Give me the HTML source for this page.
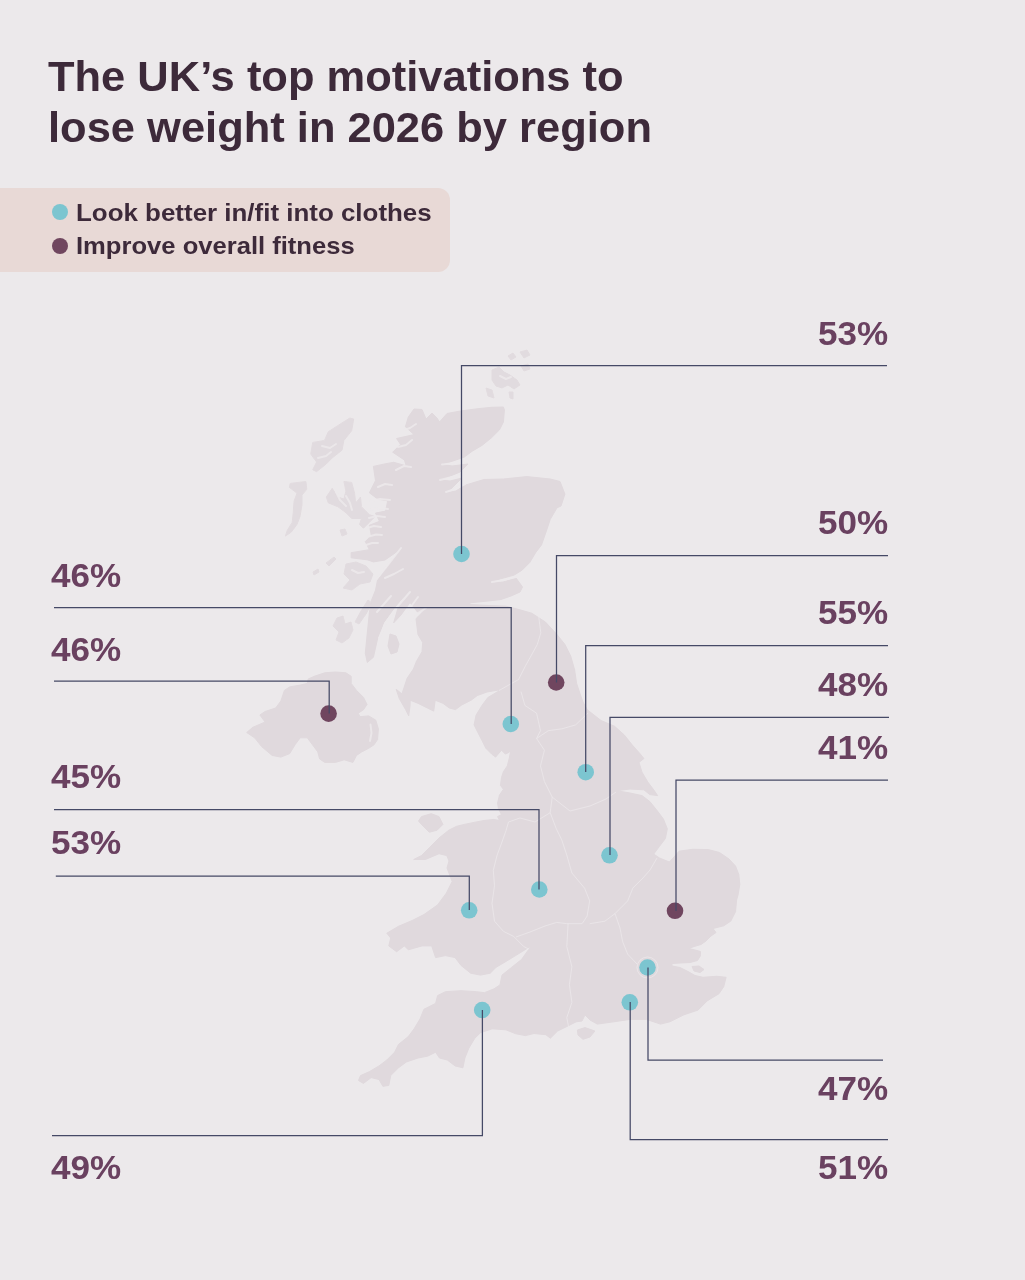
<!DOCTYPE html>
<html lang="en">
<head>
<meta charset="utf-8">
<title>The UK's top motivations to lose weight in 2026 by region</title>
<style>
html,body{margin:0;padding:0;}
body{width:1025px;height:1280px;background:#ece9eb;position:relative;overflow:hidden;font-family:"Liberation Sans",sans-serif;}
h1{position:absolute;left:47.800px;top:50.700px;margin:0;font-size:43px;line-height:51px;font-weight:bold;color:#3d2a3a;white-space:nowrap;transform:scaleX(1.011);transform-origin:0 0;}
.legend{position:absolute;left:0;top:188px;width:450px;height:83.500px;background:#e8d9d6;border-radius:0 12px 12px 0;}
.legend div{position:absolute;left:76px;font-size:24px;transform:scaleX(1.08);transform-origin:0 0;font-weight:bold;color:#3d2a3a;white-space:nowrap;line-height:30px;}
.legend i{position:absolute;left:51.500px;width:16px;height:16px;border-radius:50%;}
.pct{position:absolute;font-size:34px;line-height:34px;font-weight:bold;color:#6a4160;white-space:nowrap;}
.pct.r{right:136.500px;text-align:right;transform:scaleX(1.03);transform-origin:100% 0;}
.pct.l{left:51px;transform:scaleX(1.03);transform-origin:0 0;}
svg{position:absolute;left:0;top:0;}
</style>
</head>
<body>
<h1>The UK’s top motivations to<br>lose weight in 2026 by region</h1>
<div class="legend">
<i style="top:16px;background:#7cc5d0"></i><div style="top:10px">Look better in/fit into clothes</div>
<i style="top:49.500px;background:#70465f"></i><div style="top:43px;transform:scaleX(1.066)">Improve overall fitness</div>
</div>
<svg width="1025" height="1280" viewBox="0 0 1025 1280">
<g id="map" fill="#e0d9dd" stroke="#e0d9dd" stroke-width="1" stroke-linejoin="round"><path d="M414.0,409.0 422.0,409.5 426.0,419.0 432.0,413.0 437.0,418.0 439.5,422.0 447.0,413.5 460.5,411.0 478.0,408.7 491.7,407.3 503.4,407.0 504.4,410.0 503.4,422.0 499.5,429.8 491.7,437.6 482.0,445.4 472.2,451.2 464.4,457.0 450.0,462.0 442.0,464.0 452.0,466.0 468.0,464.0 460.0,472.0 448.0,477.0 440.0,480.0 450.0,481.0 462.0,478.0 452.0,488.0 445.0,493.0 456.0,491.0 464.4,485.4 484.0,479.5 503.4,479.0 526.8,476.6 550.2,479.0 560.0,481.5 564.9,494.1 561.0,506.0 557.0,507.8 550.2,519.5 546.3,531.2 541.5,544.9 535.6,552.7 529.8,562.4 522.0,570.2 514.1,575.1 500.0,579.0 491.0,582.0 503.0,582.0 516.0,578.0 522.5,587.0 520.0,592.0 511.0,596.0 501.0,599.5 488.0,601.0 470.0,602.8 470.0,604.6 490.0,605.6 506.0,606.2 518.0,609.3 531.7,613.2 545.4,622.0 557.0,634.6 564.9,644.4 570.7,656.1 574.6,669.8 576.6,683.4 580.5,695.1 583.0,702.0 587.3,709.8 601.0,720.5 614.6,726.3 624.4,735.1 632.2,744.9 640.0,753.7 643.9,758.5 639.0,762.4 642.0,772.2 647.8,782.0 653.7,789.8 657.6,795.6 649.8,794.6 643.9,789.8 630.0,789.0 616.6,790.7 630.0,793.0 642.0,795.6 649.8,801.5 657.6,811.2 663.4,819.0 667.3,828.8 665.4,838.5 659.5,846.3 653.7,854.1 659.5,858.0 669.3,862.0 673.2,858.0 679.0,851.2 692.7,849.3 708.3,849.6 719.5,852.5 729.0,859.0 735.5,866.0 738.8,874.5 739.8,884.5 738.0,895.0 736.6,900.0 735.5,911.7 730.8,921.1 723.7,925.8 713.0,928.5 716.0,932.5 711.0,936.0 706.0,941.0 701.0,944.5 694.0,946.5 689.0,948.5 695.0,950.0 700.5,951.5 700.3,956.0 697.5,960.5 690.0,962.5 680.0,963.0 672.0,963.5 672.0,966.0 680.0,967.5 688.0,971.5 695.0,975.5 703.0,977.3 716.7,976.3 726.1,977.3 723.7,986.7 719.0,993.7 707.4,1000.7 698.0,1010.1 683.9,1014.8 669.9,1021.8 660.5,1024.1 646.5,1019.4 630.0,1019.4 613.7,1021.8 597.3,1024.1 590.0,1020.0 585.0,1015.0 582.0,1021.0 576.2,1021.8 566.8,1026.5 557.5,1031.1 550.4,1038.2 545.8,1034.7 534.0,1033.5 525.4,1035.6 515.6,1033.7 505.9,1029.8 492.2,1028.8 480.5,1032.7 474.6,1038.5 468.8,1048.3 464.9,1058.0 462.9,1067.8 455.1,1065.9 447.3,1060.0 439.5,1058.0 435.6,1052.2 427.8,1056.1 418.0,1058.0 406.3,1062.0 398.5,1067.8 390.7,1075.6 388.8,1085.4 382.9,1086.3 379.0,1079.5 371.2,1077.6 363.4,1083.4 358.5,1080.5 360.5,1075.6 369.3,1071.7 379.0,1065.9 386.8,1060.0 394.6,1052.2 398.5,1044.4 408.3,1036.6 414.1,1028.8 420.0,1019.0 423.9,1009.3 435.6,1003.4 437.6,995.6 445.4,991.7 461.0,990.7 476.6,991.7 484.4,992.7 494.1,988.8 500.0,984.9 502.0,975.1 511.7,967.3 521.5,959.5 531.2,945.9 515.6,955.6 505.9,961.5 496.1,967.3 490.2,973.2 480.5,975.1 470.7,973.2 461.0,965.4 455.1,957.6 445.4,955.6 435.6,957.6 431.7,945.9 422.0,945.9 408.3,949.8 404.4,945.9 396.6,951.7 388.8,945.9 390.7,938.0 386.8,933.2 398.5,926.3 412.2,920.5 423.9,914.6 437.6,904.9 446.3,893.2 452.2,881.5 447.0,868.0 449.0,861.0 446.8,855.6 439.0,853.7 425.4,859.5 413.7,859.5 421.5,855.6 429.3,847.8 439.0,838.0 448.8,830.2 456.6,826.3 464.4,824.4 474.1,822.4 483.9,820.5 493.7,819.5 499.5,820.5 497.6,816.6 501.5,814.6 498.5,808.8 497.6,802.9 499.5,795.1 503.4,789.3 500.5,785.4 501.5,777.6 503.4,771.7 507.3,765.9 509.3,758.0 511.2,748.3 509.3,752.2 505.4,754.1 501.5,750.2 495.6,757.1 491.7,754.1 485.9,748.3 482.0,740.5 478.0,732.7 474.1,724.9 476.1,715.1 482.0,705.4 487.8,697.6 497.6,691.7 499.5,689.8 487.0,692.0 477.4,695.5 471.1,700.2 461.8,704.9 455.5,709.6 449.3,708.0 443.0,703.3 435.2,700.2 433.7,711.1 427.4,708.0 418.0,703.3 410.2,700.2 410.0,706.0 408.7,715.8 405.6,709.6 399.3,698.6 396.2,689.3 401.9,693.9 404.0,687.7 407.1,678.3 413.4,669.0 416.5,661.2 422.0,651.8 422.7,642.4 418.0,634.6 416.0,618.7 426.0,608.6 418.0,612.7 410.0,602.5 401.0,615.0 393.7,622.8 398.0,608.0 405.9,594.4 395.0,607.0 383.6,622.8 377.5,639.0 373.4,657.3 367.3,662.4 365.3,653.3 367.3,633.0 369.4,612.7 371.4,600.5 375.5,590.3 377.5,580.2 388.0,566.0 399.8,549.7 385.0,560.0 373.4,561.9 367.3,559.8 351.1,557.8 351.1,552.7 369.4,549.7 365.3,541.6 371.4,535.5 369.4,525.3 379.5,521.3 375.5,513.1 385.6,511.1 387.7,500.9 377.5,498.9 369.4,492.8 375.5,480.6 373.4,466.4 384.9,463.9 393.7,462.3 406.3,465.9 404.4,460.0 392.7,452.2 400.5,444.4 396.6,438.5 414.1,434.6 405.4,426.8 408.3,417.1ZM308.2,679.0 314.3,676.3 324.8,672.8 335.4,672.0 345.9,672.8 351.2,676.3 351.2,683.4 356.5,690.4 363.5,697.4 367.0,704.4 363.5,709.7 358.2,713.2 360.0,716.7 368.7,715.9 375.8,720.2 378.4,729.0 377.5,739.6 374.0,744.8 368.7,748.3 361.7,751.9 356.5,755.4 352.9,762.4 344.2,759.8 335.4,762.4 324.8,762.4 319.6,758.9 317.8,751.9 312.5,744.8 307.3,737.8 300.2,737.8 295.0,744.8 289.7,753.6 280.9,757.1 272.1,755.4 261.6,746.6 254.6,737.8 246.7,732.5 252.8,727.3 265.1,722.0 259.9,715.0 265.1,711.5 275.7,708.0 280.9,700.9 284.4,690.4 289.7,686.9 300.2,685.1 307.3,683.4ZM390.0,634.0 396.0,636.0 399.0,644.0 397.0,652.0 391.0,654.0 388.0,646.0ZM421.5,816.6 431.2,813.7 439.0,816.6 442.9,824.4 437.1,830.2 429.3,832.2 421.5,824.4 418.5,821.0ZM577.4,1030.0 585.0,1027.6 594.9,1031.0 590.0,1037.0 583.0,1039.3 578.0,1035.0ZM692.0,966.5 699.0,966.0 704.0,969.5 700.0,972.5 694.0,971.0Z"/><path d="M353.7,419.0 351.7,430.7 343.9,440.5 342.0,450.2 332.2,458.0 326.3,463.9 316.6,471.7 312.7,469.8 316.6,462.0 310.7,454.1 312.7,442.4 324.4,440.5 328.3,431.7 342.0,422.9 349.8,418.0ZM290.2,483.4 305.9,481.5 306.8,489.3 302.0,495.1 302.0,504.9 300.0,516.6 297.0,524.4 291.2,532.2 285.4,536.1 287.3,530.2 292.2,522.4 293.2,512.7 294.1,501.0 297.0,493.2 289.3,487.3ZM343.9,481.5 351.7,482.4 354.6,493.2 355.6,502.9 360.5,497.1 361.5,506.8 369.3,514.6 375.1,516.6 369.3,522.4 363.4,528.3 359.5,524.4 361.5,518.5 351.7,518.5 345.9,512.7 338.0,506.8 328.3,502.9 326.3,497.1 332.2,488.3 338.0,497.1 343.9,499.0 345.9,491.2ZM346.0,564.0 356.0,562.0 366.0,566.0 373.0,574.0 370.0,582.0 360.0,584.0 352.0,590.0 343.0,588.0 350.0,580.0 344.0,574.0ZM337.0,618.0 343.0,616.0 345.0,624.0 351.0,622.0 353.0,630.0 349.0,638.0 342.0,643.0 336.0,640.0 339.0,632.0 333.0,626.0ZM368.0,600.0 372.0,603.0 366.0,614.0 359.0,624.0 355.0,622.0 361.0,611.0ZM340.0,530.0 345.0,529.0 347.0,534.0 342.0,536.0ZM326.0,563.0 334.0,557.0 336.0,559.0 329.0,566.0ZM313.0,572.0 318.0,569.0 319.0,572.0 314.0,575.0ZM492.0,370.0 499.0,367.0 504.0,372.0 510.0,375.0 517.0,380.0 520.0,385.0 514.0,389.0 508.0,385.0 502.0,388.0 496.0,386.0 492.0,380.0ZM508.0,356.0 513.0,353.0 516.0,357.0 511.0,360.0ZM520.0,352.0 527.0,350.0 530.0,355.0 524.0,358.0ZM521.0,366.0 528.0,364.0 530.0,369.0 524.0,371.0ZM509.0,392.0 513.0,392.0 513.0,399.0 510.0,398.0ZM486.0,388.0 492.0,390.0 494.0,398.0 488.0,396.0Z" opacity="0.85"/><path d="M508.5,822.0 506.0,830.7 500.9,845.0 497.1,855.2 493.3,870.4 494.5,885.7 492.0,903.4 494.5,921.2 503.4,931.3 513.6,936.4 523.7,946.5 528.8,949.1M552.2,797.1 550.2,812.7 556.1,828.3 561.8,840.0 566.8,855.2 571.9,873.0 584.6,888.2 589.7,900.9 587.1,916.1 582.1,923.7 566.8,923.7 556.7,922.4 545.0,926.0 530.0,932.0 516.0,937.0M568.1,923.7 566.8,946.5 571.9,966.8 569.4,984.6 571.9,1002.4 566.8,1017.6 569.0,1029.0M657.0,858.0 650.0,870.0 642.9,878.1 632.8,888.2 627.7,900.9 615.0,913.6 604.9,921.2 589.7,923.7M615.0,913.6 620.0,928.0 622.6,941.5 627.7,954.2 637.0,964.0M521.0,691.7 524.9,705.4 536.6,713.2 540.5,730.7 536.6,738.5 544.4,750.2 540.5,765.9 544.4,781.5 552.2,797.1M536.6,738.5 548.3,730.7 562.0,728.8 575.6,724.9 588.0,713.0M552.2,797.1 570.0,811.0 590.0,806.0 606.0,799.0 616.0,792.0M538.5,615.0 540.8,632.8 537.3,644.5 525.6,665.6 518.5,679.6 499.0,690.5M508.5,822.0 520.0,818.0 535.0,822.0 550.2,812.7" fill="none" stroke="#ece8eb" stroke-opacity="0.75" stroke-width="1"/><circle cx="647.5" cy="967.5" r="10.5" fill="none" stroke="#ece8eb" stroke-opacity="0.75" stroke-width="1"/><path d="M401.0,548.0 388.0,565.0 376.0,580.0M403.0,569.0 394.0,574.0 385.0,578.0M370.0,501.0 380.0,499.0 390.0,500.0M371.0,509.5 380.0,508.0 388.0,509.0M369.0,518.0 377.0,516.0 385.0,517.0M367.0,528.0 374.0,526.0 381.0,527.0M369.0,536.5 376.0,534.5 382.0,535.0M366.0,545.0 372.0,543.0 378.0,543.0M410.0,592.0 398.0,606.0 386.0,622.0 379.0,638.0M418.0,597.0 410.0,608.0 402.0,619.0M426.0,608.0 418.0,613.0 412.0,622.0M391.0,596.0 384.0,604.0 377.0,612.0M396.0,470.0 404.0,466.0 411.0,467.0M398.0,447.0 406.0,445.0 412.0,440.0M404.0,430.0 410.0,428.0 416.0,424.0M378.0,487.0 385.0,484.0 392.0,485.0M440.0,480.0 452.0,477.0 463.0,475.0M442.0,464.5 455.0,463.0 468.0,461.0M446.0,492.0 455.0,489.0 465.0,484.0M492.0,582.0 504.0,580.0 516.0,577.0M370.5,724.5 371.5,733.0 370.0,741.0M322.0,446.0 330.0,448.0 336.0,444.0M318.0,458.0 326.0,456.0 331.0,452.0M346.0,496.0 350.0,503.0 352.0,510.0M336.0,492.0 340.0,500.0 346.0,506.0M352.0,570.0 358.0,573.0 364.0,572.0M500.0,376.0 506.0,379.0 511.0,377.0" fill="none" stroke="#ece9eb" stroke-opacity="0.85" stroke-width="2" stroke-linecap="round"/></g>
<g fill="#7cc5d0">
<circle cx="461.500" cy="554" r="8.300"/>
<circle cx="585.700" cy="772.200" r="8.300"/>
<circle cx="609.500" cy="855.300" r="8.300"/>
<circle cx="647.500" cy="967.500" r="8.300"/>
<circle cx="629.800" cy="1002.300" r="8.300"/>
<circle cx="482.200" cy="1010" r="8.300"/>
<circle cx="469.200" cy="910.300" r="8.300"/>
<circle cx="539.300" cy="889.500" r="8.300"/>
<circle cx="510.800" cy="724" r="8.300"/>
</g>
<g fill="#70465f">
<circle cx="556.200" cy="682.500" r="8.300"/>
<circle cx="675" cy="910.800" r="8.300"/>
<circle cx="328.600" cy="713.600" r="8.300"/>
</g>
<g fill="none" stroke="#454966" stroke-width="1.25">
<path d="M461.500 554V365.500H887"/>
<path d="M556.500 682.500V555.500H888"/>
<path d="M585.700 772V645.500H888"/>
<path d="M610 855V717.300H889"/>
<path d="M676 911V780H888"/>
<path d="M648 967.500V1060H883"/>
<path d="M630.200 1002V1139.500H888"/>
<path d="M482.400 1010V1135.500H52"/>
<path d="M469.300 910V876H55.800"/>
<path d="M539 889.500V809.500H54"/>
<path d="M511.200 724V607.700H54"/>
<path d="M329.200 713.500V681H54"/>
</g>
</svg>
<div class="pct r" style="top:316.4px">53%</div>
<div class="pct r" style="top:505.2px">50%</div>
<div class="pct r" style="top:595px">55%</div>
<div class="pct r" style="top:666.5px">48%</div>
<div class="pct r" style="top:729.8px">41%</div>
<div class="pct r" style="top:1070.9px">47%</div>
<div class="pct r" style="top:1150.2px">51%</div>
<div class="pct l" style="top:558.4px">46%</div>
<div class="pct l" style="top:631.8px">46%</div>
<div class="pct l" style="top:759.4px">45%</div>
<div class="pct l" style="top:825.3px">53%</div>
<div class="pct l" style="top:1149.6px">49%</div>
</body>
</html>
